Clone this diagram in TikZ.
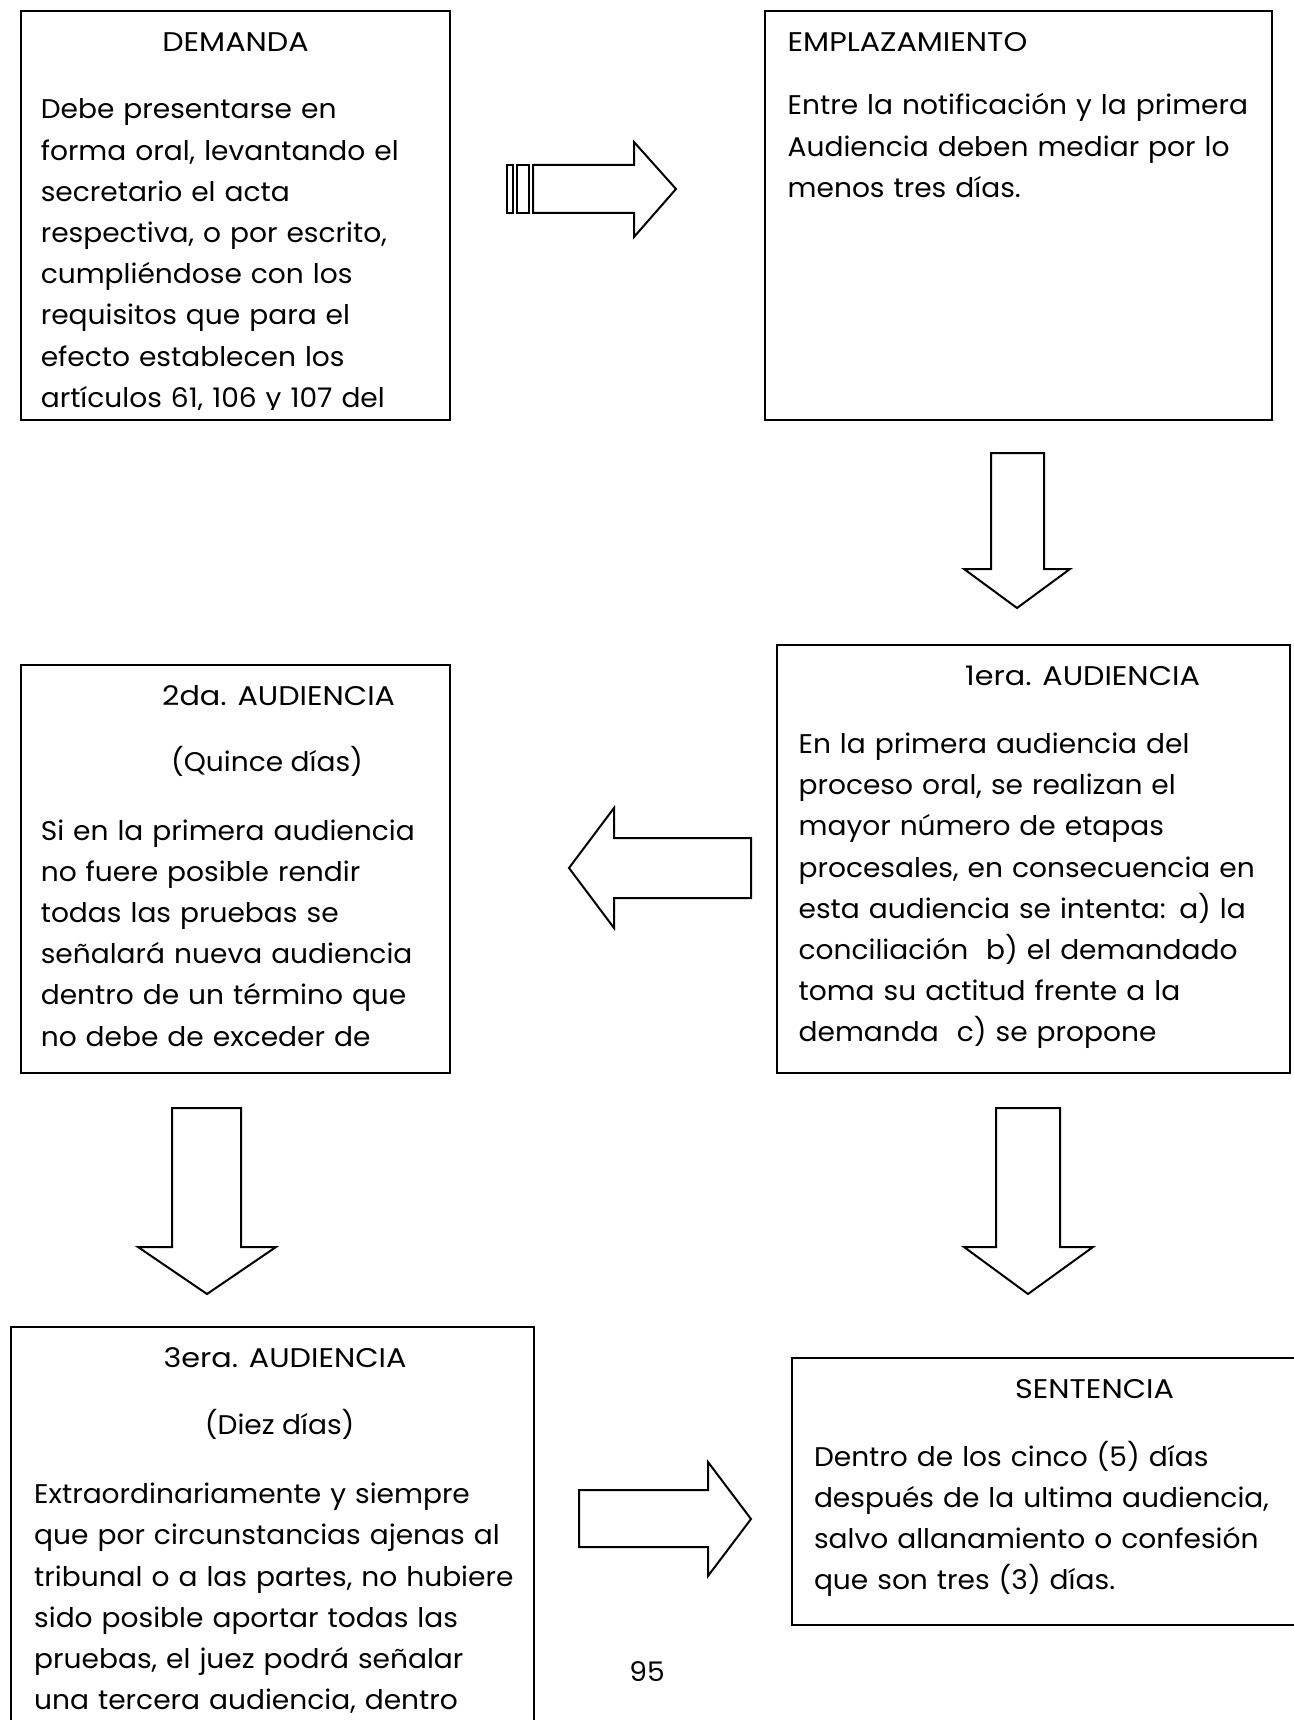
\documentclass[tikz,border=0pt]{standalone}
\usepackage{fontspec}
\setmainfont{Poppins}[FakeStretch=1.04]
\newfontfamily\capsfont{Poppins}[FakeStretch=1.12]
\begin{document}
\begin{tikzpicture}[x=1pt,y=-1pt,
  box/.style={draw=black,line width=2pt,inner sep=0pt,fill=none},
  blockarrow/.style={draw=black,line width=2pt,line join=miter,fill=white},
  body/.style={align=left,text width=520pt,inner sep=0pt,anchor=base west,
    font=\fontsize{27}{41.2}\selectfont},
  ttl/.style={inner sep=0pt,anchor=base,font=\capsfont\fontsize{27}{30}\selectfont},
  sub/.style={inner sep=0pt,anchor=base,font=\fontsize{27}{30}\selectfont}]
\useasboundingbox (0,0) rectangle (1293,1720);
\fill[white] (0,0) rectangle (1293,1720);
% boxes
\draw[box] (21,11) rectangle (450,420);
\coordinate (demanda) at (235.5,215.5);
\draw[box] (765,11) rectangle (1272,420);
\coordinate (emplaz) at (1018.5,215.5);
\draw[box] (777,645) rectangle (1290,1073);
\coordinate (aud1) at (1033.5,859);
\draw[box] (21,665) rectangle (450,1073);
\coordinate (aud2) at (235.5,869);
\draw[box] (11,1730) -- (11,1327) -- (534,1327) -- (534,1730);
\coordinate (aud3) at (272.5,1520);
\draw[box] (1300,1358) -- (792,1358) -- (792,1625) -- (1300,1625);
\coordinate (sent) at (1045,1491);
% DEMANDA
\node[ttl] (demT) at (235.5,52) {DEMANDA};
\begin{scope}
\clip (21,11) rectangle (450,409);
\node[body] (demB) at (40.6,119) {Debe presentarse en\\forma oral, levantando el\\secretario el acta\\respectiva, o por escrito,\\cumpliéndose con los\\requisitos que para el\\efecto establecen los\\artículos 61, 106 y 107 del};
\end{scope}
% EMPLAZAMIENTO
\node[ttl,anchor=base west] (empT) at (787.5,52) {EMPLAZAMIENTO};
\node[body] (empB) at (787.5,115) {Entre la notificación y la primera\\Audiencia deben mediar por lo\\menos tres días.};
% 1era
\node[ttl] (a1T) at (1082.5,685.4) {1era. AUDIENCIA};
\node[body] (a1B) at (798.4,753.4) {En la primera audiencia del\\proceso oral, se realizan el\\mayor número de etapas\\procesales, en consecuencia en\\esta audiencia se intenta: a) la\\conciliación\ \ b) el demandado\\toma su actitud frente a la\\demanda\ \ c) se propone};
% 2da
\node[ttl] (a2T) at (278.6,705.2) {2da. AUDIENCIA};
\node[sub] (a2Q) at (267,771) {(Quince días)};
\node[body] (a2B) at (40.6,840) {Si en la primera audiencia\\no fuere posible rendir\\todas las pruebas se\\señalará nueva audiencia\\dentro de un término que\\no debe de exceder de};
% 3era
\node[ttl] (a3T) at (285,1367.6) {3era. AUDIENCIA};
\node[sub] (a3D) at (279.7,1434.5) {(Diez días)};
\node[body] (a3B) at (34,1503.6) {Extraordinariamente y siempre\\que por circunstancias ajenas al\\tribunal o a las partes, no hubiere\\sido posible aportar todas las\\pruebas, el juez podrá señalar\\una tercera audiencia, dentro};
% SENTENCIA
\node[ttl] (seT) at (1094.5,1398.3) {SENTENCIA};
\node[body] (seB) at (813.8,1466) {Dentro de los cinco (5) días\\después de la ultima audiencia,\\salvo allanamiento o confesión\\que son tres (3) días.};
% page number
\node[sub] (pg) at (647,1681) {95};
% block arrows
\draw[blockarrow] (507,165) rectangle (513,213);
\draw[blockarrow] (517,165) rectangle (529,213);
\draw[blockarrow] (533,165) -- (634,165) -- (634,142) -- (676,189) -- (634,237) -- (634,213) -- (533,213) -- cycle;
\draw[blockarrow] (991,453) -- (1044,453) -- (1044,569) -- (1070,569) -- (1017,608) -- (964,569) -- (991,569) -- cycle;
\draw[blockarrow] (751,838) -- (614,838) -- (614,808) -- (569,868) -- (614,928) -- (614,898) -- (751,898) -- cycle;
\draw[blockarrow] (172,1108) -- (241,1108) -- (241,1247) -- (276,1247) -- (207,1294) -- (138,1247) -- (172,1247) -- cycle;
\draw[blockarrow] (996,1108) -- (1060,1108) -- (1060,1247) -- (1093,1247) -- (1028,1294) -- (964,1247) -- (996,1247) -- cycle;
\draw[blockarrow] (579,1490) -- (708,1490) -- (708,1462) -- (751,1519) -- (708,1576) -- (708,1547) -- (579,1547) -- cycle;
\end{tikzpicture}
\end{document}
